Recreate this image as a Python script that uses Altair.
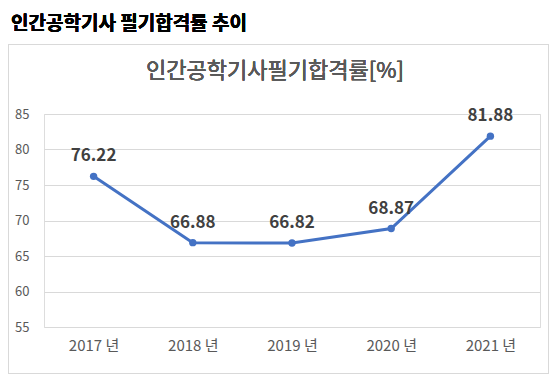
import altair as alt
import pandas as pd

years = ["2017 년", "2018 년", "2019 년", "2020 년", "2021 년"]
rates = [76.22, 66.88, 66.82, 68.87, 81.88]
labels = ["76.22", "66.88", "66.82", "68.87", "81.88"]
y_ticks = [55, 60, 65, 70, 75, 80, 85]
heading = "인간공학기사 필기합격률 추이"
chart_title = "인간공학기사필기합격률[%]"

df = pd.DataFrame({"year": years, "rate": rates, "label": labels})

FONT = "Noto Sans CJK KR"

x = alt.X("year:N", sort=years, title=None,
          scale=alt.Scale(paddingInner=0, paddingOuter=0.5),
          axis=alt.Axis(labelAngle=0, domain=False, ticks=False, labelPadding=11,
                        labelFontSize=15, labelColor="#595959", labelFont=FONT))
y = alt.Y("rate:Q", title=None,
          scale=alt.Scale(domain=[55, 85], nice=False, zero=False),
          axis=alt.Axis(values=y_ticks, domain=False, ticks=False, labelPadding=15,
                        labelFontSize=13, labelColor="#595959", labelFont=FONT,
                        gridColor="#d9d9d9", gridWidth=1))

base = alt.Chart(df)

line = base.mark_line(color="#4472C4", strokeWidth=3).encode(x=x, y=y)
pts = base.mark_circle(color="#4472C4", size=55, opacity=1).encode(x=x, y=y)
txt = base.mark_text(dy=-20, fontSize=17, fontWeight="bold", color="#404040", font=FONT).encode(
    x=x, y=y, text="label:N")

border = alt.Chart(df).mark_rect(fill=None, stroke="#d9d9d9", strokeWidth=1).encode(
    x=alt.value(-35.5), x2=alt.value(504.5), y=alt.value(-69.5), y2=alt.value(259.5))

head = alt.Chart(df).mark_text(align="left", baseline="middle", fontSize=19, fontWeight="bold",
                               color="#000000", font=FONT).encode(
    x=alt.value(-33), y=alt.value(-90), text=alt.value(heading))

ttl = alt.Chart(df).mark_text(align="center", baseline="middle", fontSize=22,
                              color="#595959", font=FONT).encode(
    x=alt.value(231), y=alt.value(-43), text=alt.value(chart_title))

chart = alt.layer(border, head, ttl, line, pts, txt).properties(
    width=496, height=213,
    autosize=alt.AutoSizeParams(type="none"),
    padding={"left": 36, "top": 106, "right": 9, "bottom": 48},
).configure_view(stroke=None).configure(background="white")

chart.save("out.html", embed_options={"renderer": "svg", "actions": False})
